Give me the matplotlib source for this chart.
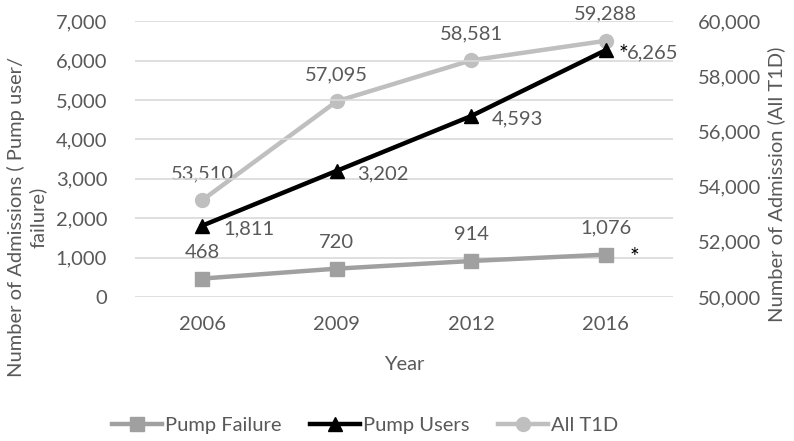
import matplotlib
matplotlib.use("Agg")
import matplotlib.pyplot as plt
from matplotlib.ticker import FuncFormatter
from matplotlib.lines import Line2D

plt.rcParams["font.family"] = ["Lato", "DejaVu Sans"]

YEARS = ["2006", "2009", "2012", "2016"]
PUMP_FAILURE = [468, 720, 914, 1076]
PUMP_USERS = [1811, 3202, 4593, 6265]
ALL_T1D = [53510, 57095, 58581, 59288]

TEXT = "#595959"
C_FAIL = "#A0A0A0"
C_USERS = "#000000"
C_ALL = "#BFBFBF"
GRID = "#D9D9D9"
FS = 14.5

comma = FuncFormatter(lambda v, p: f"{v:,.0f}")

fig = plt.figure(figsize=(7.94, 4.41), dpi=100)
ax = fig.add_axes([0.170, 0.3265, 0.6776, 0.6255])
ax2 = ax.twinx()
ax.set_zorder(ax2.get_zorder() + 1)
ax.patch.set_visible(False)

x = list(range(len(YEARS)))

ax2.plot(x, ALL_T1D, color=C_ALL, lw=3.2, marker="o", ms=10, zorder=3)
ax.plot(x, PUMP_FAILURE, color=C_FAIL, lw=3.2, marker="s", ms=10, zorder=3)
ax.plot(x, PUMP_USERS, color=C_USERS, lw=3.2, marker="^", ms=10, zorder=4)

ax.set_xlim(-0.5, 3.5)
ax.set_ylim(0, 7000)
ax.set_yticks(range(0, 7001, 1000))
ax2.set_ylim(50000, 60000)
ax2.set_yticks(range(50000, 60001, 2000))
ax.yaxis.set_major_formatter(comma)
ax2.yaxis.set_major_formatter(comma)
ax.set_xticks(x)
ax.set_xticklabels(YEARS)

for a in (ax, ax2):
    for s in a.spines.values():
        s.set_visible(False)
    a.tick_params(length=0, labelsize=FS, colors=TEXT)
ax.tick_params(axis="x", pad=14)
ax.tick_params(axis="y", pad=20)
ax2.tick_params(axis="y", pad=18)

ax.grid(axis="y", color=GRID, lw=1.2, zorder=0)
ax.set_axisbelow(True)

# data labels
for i, v in enumerate(PUMP_FAILURE):
    ax.annotate(f"{v:,}", (i, v), xytext=(0, 13), textcoords="offset points",
                ha="center", va="bottom", fontsize=FS, color=TEXT)
for i, v in enumerate(PUMP_USERS):
    ax.annotate(f"{v:,}", (i, v), xytext=(15, -2), textcoords="offset points",
                ha="left", va="center", fontsize=FS, color=TEXT)
for i, v in enumerate(ALL_T1D):
    ax2.annotate(f"{v:,}", (i, v), xytext=(0, 13), textcoords="offset points",
                 ha="center", va="bottom", fontsize=FS, color=TEXT)

# significance stars
ax.annotate("*", (3, PUMP_USERS[3]), xytext=(9, -3), textcoords="offset points",
            ha="left", va="center", fontsize=FS + 2, color="black", zorder=6)
ax.annotate("*", (3, PUMP_FAILURE[3]), xytext=(17, -2), textcoords="offset points",
            ha="left", va="center", fontsize=FS + 2, color="black", zorder=6)

ax.set_xlabel("Year", fontsize=FS, color=TEXT, labelpad=16)
ax.set_ylabel("Number of Admissions ( Pump user/\nfailure)", fontsize=FS,
              color=TEXT)
ax.yaxis.set_label_coords(-0.165, 0.29)
ax2.set_ylabel("Number of Admission (All T1D)", fontsize=FS, color=TEXT)
ax2.yaxis.set_label_coords(1.175, 0.41)

handles = [
    Line2D([], [], color=C_FAIL, lw=3.2, marker="s", ms=10),
    Line2D([], [], color=C_USERS, lw=3.2, marker="^", ms=10),
    Line2D([], [], color=C_ALL, lw=3.2, marker="o", ms=10),
]
leg = fig.legend(handles, ["Pump Failure", "Pump Users", "All T1D"],
                 loc="lower center", bbox_to_anchor=(0.46, -0.025), ncol=3,
                 frameon=False, fontsize=FS, handlelength=2.5,
                 columnspacing=1.4, handletextpad=0.15)
for t in leg.get_texts():
    t.set_color(TEXT)

fig.savefig("out.png", dpi=100)
